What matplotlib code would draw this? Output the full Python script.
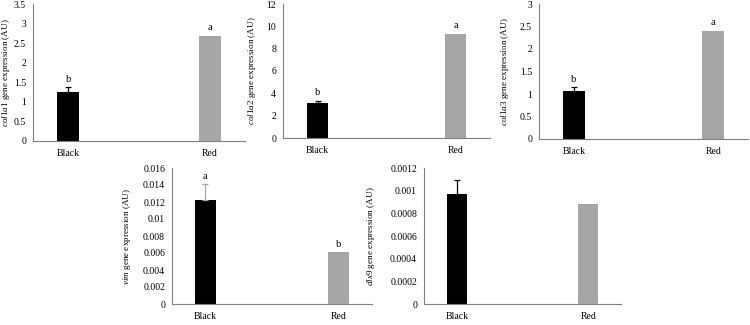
import matplotlib.pyplot as plt

plt.rcParams['font.family'] = ['Liberation Serif', 'DejaVu Serif']
plt.rcParams['mathtext.fontset'] = 'custom'
plt.rcParams['mathtext.rm'] = 'Liberation Serif'
plt.rcParams['mathtext.it'] = 'Liberation Serif:italic'

groups = ['Black', 'Red']
genes = ['col1a1', 'col1a2', 'col1a3', 'vim', 'dlx9']

col1a1_vals = [1.26, 2.69]
col1a1_err = [0.11, 0.0]
col1a1_letters = ['b', 'a']

col1a2_vals = [3.1, 9.35]
col1a2_err = [0.22, 0.0]
col1a2_letters = ['b', 'a']

col1a3_vals = [1.06, 2.41]
col1a3_err = [0.09, 0.0]
col1a3_letters = ['b', 'a']

vim_vals = [0.01226, 0.00609]
vim_err = [0.0018, 0.0]
vim_letters = ['a', 'b']

dlx9_vals = [0.00097, 0.000885]
dlx9_err = [0.00012, 0.0]
dlx9_letters = ['', '']

ylims = [(0, 3.5, 0.5), (0, 12, 2), (0, 3, 0.5), (0, 0.016, 0.002), (0, 0.0012, 0.0002)]

# axes boxes in pixels: left, top, right, bottom (750x325 canvas)
boxes = [(33, 4, 245, 141), (283, 4, 490, 138), (539, 4, 748, 139),
         (172, 168, 372, 304), (424, 168, 621, 304)]
label_x = [12, 258, 511, 133, 377]
err_colors = ['black', 'black', 'black', '#a6a6a6', 'black']

W, H = 750, 325
fig = plt.figure(figsize=(7.5, 3.25), dpi=100)

series = [
    (col1a1_vals, col1a1_err, col1a1_letters),
    (col1a2_vals, col1a2_err, col1a2_letters),
    (col1a3_vals, col1a3_err, col1a3_letters),
    (vim_vals, vim_err, vim_letters),
    (dlx9_vals, dlx9_err, dlx9_letters),
]


def fmt(v):
    s = f'{v:.6f}'.rstrip('0').rstrip('.')
    return s if s else '0'


for i, (vals, errs, letters) in enumerate(series):
    l, t, r, b = boxes[i]
    ax = fig.add_axes([l / W, 1 - b / H, (r - l) / W, (b - t) / H])
    x = [0, 1]
    ax.bar(x, vals, width=0.155, color=['black', '#a6a6a6'], zorder=2)
    ax.errorbar([0], [vals[0]], yerr=[[0], [errs[0]]], fmt='none',
                ecolor=err_colors[i], elinewidth=0.9, capsize=2, capthick=0.9, zorder=3)
    ymin, ymax, step = ylims[i]
    for xi, v, e, lab in zip(x, vals, errs, letters):
        if lab:
            ax.annotate(lab, (xi, v + e), xytext=(0, 2.5), textcoords='offset points',
                        ha='center', va='bottom', fontsize=7.5)
    ax.set_xlim(-0.25, 1.25)
    ax.set_ylim(ymin, ymax)
    n = int(round((ymax - ymin) / step))
    yt = [ymin + k * step for k in range(n + 1)]
    ax.set_yticks(yt)
    ax.set_yticklabels([fmt(v) for v in yt])
    ax.set_xticks(x)
    ax.set_xticklabels(groups)
    ax.tick_params(length=0, labelsize=7)
    ax.tick_params(axis='x', pad=6)
    ax.tick_params(axis='y', pad=5)
    for s in ['top', 'right']:
        ax.spines[s].set_visible(False)
    for s in ['left', 'bottom']:
        ax.spines[s].set_color('#7f7f7f')
        ax.spines[s].set_linewidth(0.8)
    ax.set_ylabel(r'$\mathit{' + genes[i] + r'}$' + ' gene expression (AU)', fontsize=6.6)
    ax.yaxis.set_label_coords((label_x[i] - l) / (r - l), 0.5)
    ax.patch.set_alpha(0)

fig.savefig('out.png', dpi=100)
